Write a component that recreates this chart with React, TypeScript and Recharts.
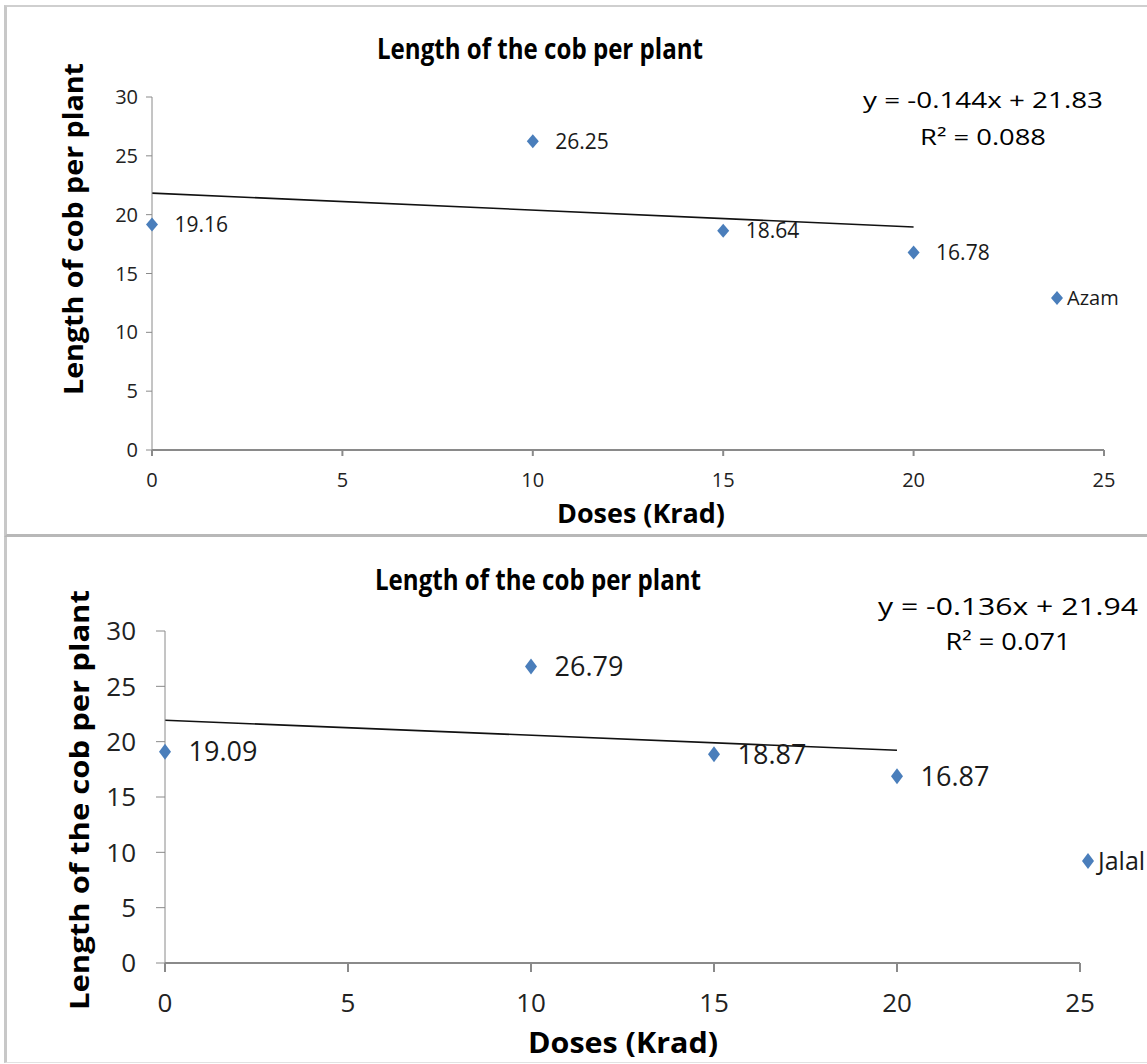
import {
  Legend,
  LabelList,
  ReferenceLine,
  Scatter,
  ScatterChart,
  XAxis,
  YAxis,
} from "recharts";

const doses = [0, 10, 15, 20];
const azamLength = [19.16, 26.25, 18.64, 16.78];
const jalalLength = [19.09, 26.79, 18.87, 16.87];
const trendDoses = [0, 20];
const azamTrend = [21.83, 18.95];
const jalalTrend = [21.94, 19.22];
const xTicks = [0, 5, 10, 15, 20, 25];
const yTicks = [0, 5, 10, 15, 20, 25, 30];

const FONT = "'Open Sans', 'DejaVu Sans', sans-serif";
const MARKER = "#4A7EBB";
const AXIS = "#8a8a8a";

type Pt = { x: number; y: number };
const toPoints = (xs: number[], ys: number[]): Pt[] => xs.map((x, i) => ({ x, y: ys[i] }));

function diamond(half: number, halfH: number) {
  return (props: any) => {
    const { cx, cy } = props;
    return (
      <polygon
        points={`${cx},${cy - halfH} ${cx + half},${cy} ${cx},${cy + halfH} ${cx - half},${cy}`}
        fill={MARKER}
      />
    );
  };
}

function legendContent(fontSize: number, half: number, halfH: number) {
  return (props: any) => {
    const items = (props.payload ?? []) as Array<{ value: string }>;
    return (
      <div style={{ fontFamily: FONT }}>
        {items.map((e) => (
          <div key={e.value} style={{ display: "flex", alignItems: "center", gap: 3 }}>
            <svg width={half * 2 + 2} height={halfH * 2 + 2}>
              <polygon
                points={`${half + 1},1 ${half * 2 + 1},${halfH + 1} ${half + 1},${halfH * 2 + 1} 1,${halfH + 1}`}
                fill={MARKER}
              />
            </svg>
            <span style={{ fontSize, color: "#1a1a1a", lineHeight: 1 }}>{e.value}</span>
          </div>
        ))}
      </div>
    );
  };
}

interface PanelProps {
  name: string;
  values: number[];
  trend: number[];
  top: number;
  height: number;
  margin: { top: number; right: number; bottom: number; left: number };
  yAxisWidth: number;
  tickFont: number;
  labelFont: number;
  tickMarginX: number;
  tickMarginY: number;
  tickSize: number;
  half: number;
  halfH: number;
  labelOffset: number;
  legendPos: { left: number; top: number };
  legendFont: number;
}

function Panel(p: PanelProps) {
  const data = toPoints(doses, p.values);
  const trend = toPoints(trendDoses, p.trend);
  return (
    <div style={{ position: "absolute", left: 0, top: p.top }}>
      <ScatterChart
        width={1147}
        height={p.height}
        margin={p.margin}
        style={{ fontFamily: FONT }}
      >
        <XAxis
          type="number"
          dataKey="x"
          domain={[0, 25]}
          ticks={xTicks}
          height={60}
          stroke={AXIS}
          strokeWidth={2}
          tickSize={p.tickSize}
          tickMargin={p.tickMarginX}
          tick={{ fontSize: p.tickFont, fill: "#222", fontFamily: FONT }}
        />
        <YAxis
          type="number"
          dataKey="y"
          domain={[0, 30]}
          ticks={yTicks}
          width={p.yAxisWidth}
          stroke={AXIS}
          tickSize={p.tickSize}
          tickMargin={p.tickMarginY}
          tick={{ fontSize: p.tickFont, fill: "#222", fontFamily: FONT }}
        />
        <ReferenceLine
          segment={trend}
          stroke="#111"
          strokeWidth={1.6}
          ifOverflow="visible"
        />
        <Scatter
          name={p.name}
          data={data}
          fill={MARKER}
          shape={diamond(p.half, p.halfH)}
          isAnimationActive={false}
        >
          <LabelList
            dataKey="y"
            position="right"
            offset={p.labelOffset}
            fill="#1a1a1a"
            fontSize={p.labelFont}
            fontFamily={FONT}
          />
        </Scatter>
        <Legend
          layout="horizontal"
          verticalAlign="middle"
          align="center"
          content={legendContent(p.legendFont, p.half, p.halfH)}
          wrapperStyle={{ position: "absolute", left: p.legendPos.left, top: p.legendPos.top, width: 110 }}
        />
      </ScatterChart>
    </div>
  );
}

function Texts() {
  const bold = { fontFamily: FONT, fontWeight: 700, fill: "#000" } as const;
  const reg = { fontFamily: FONT, fill: "#000" } as const;
  return (
    <svg
      width={1147}
      height={1064}
      style={{ position: "absolute", left: 0, top: 0, pointerEvents: "none" }}
    >
      {/* top chart */}
      <text x={540} y={59} textAnchor="middle" fontSize={28} textLength={326} lengthAdjust="spacingAndGlyphs" {...bold}>
        Length of the cob per plant
      </text>
      <text x={983} y={108} textAnchor="middle" fontSize={21} textLength={240} lengthAdjust="spacingAndGlyphs" {...reg}>
        y = -0.144x + 21.83
      </text>
      <text x={983} y={145} textAnchor="middle" fontSize={21} textLength={126} lengthAdjust="spacingAndGlyphs" {...reg}>
        R² = 0.088
      </text>
      <text x={641} y={523} textAnchor="middle" fontSize={26} textLength={168} lengthAdjust="spacingAndGlyphs" {...bold}>
        Doses (Krad)
      </text>
      <text
        x={73}
        y={229}
        transform="rotate(-90 73 229)"
        textAnchor="middle"
        dominantBaseline="central"
        fontSize={26}
        textLength={332}
        lengthAdjust="spacingAndGlyphs"
        {...bold}
      >
        Length of cob per plant
      </text>

      {/* bottom chart */}
      <text x={538} y={590} textAnchor="middle" fontSize={28} textLength={326} lengthAdjust="spacingAndGlyphs" {...bold}>
        Length of the cob per plant
      </text>
      <text x={1008} y={615} textAnchor="middle" fontSize={24} textLength={260} lengthAdjust="spacingAndGlyphs" {...reg}>
        y = -0.136x + 21.94
      </text>
      <text x={1008} y={650} textAnchor="middle" fontSize={24} textLength={125} lengthAdjust="spacingAndGlyphs" {...reg}>
        R² = 0.071
      </text>
      <text x={623} y={1053} textAnchor="middle" fontSize={28} textLength={190} lengthAdjust="spacingAndGlyphs" {...bold}>
        Doses (Krad)
      </text>
      <text
        x={78}
        y={800}
        transform="rotate(-90 78 800)"
        textAnchor="middle"
        dominantBaseline="central"
        fontSize={27}
        textLength={420}
        lengthAdjust="spacingAndGlyphs"
        {...bold}
      >
        Length of the cob per plant
      </text>
    </svg>
  );
}

export default function App() {
  return (
    <div
      style={{
        position: "absolute",
        left: 0,
        top: 0,
        width: 1147,
        height: 1064,
        background: "#fff",
        overflow: "hidden",
      }}
    >
      <div
        style={{
          position: "absolute",
          left: 4,
          top: 5,
          width: 1170,
          height: 527,
          borderTop: "2px solid #cfcfcf",
          borderLeft: "3px solid #c8c8c8",
          borderBottom: "3px solid #b8b8b8",
        }}
      />
      <div
        style={{
          position: "absolute",
          left: 4,
          top: 537,
          width: 1170,
          height: 525,
          borderLeft: "3px solid #c8c8c8",
          borderBottom: "1px solid #e2e2e2",
        }}
      />
      <Panel
        name="Azam"
        values={azamLength}
        trend={azamTrend}
        top={0}
        height={535}
        margin={{ top: 97, right: 43, bottom: 25, left: 92 }}
        yAxisWidth={60}
        tickFont={20}
        labelFont={21}
        tickSize={6}
        tickMarginX={17}
        tickMarginY={8}
        half={6}
        halfH={7}
        labelOffset={18}
        legendPos={{ left: 1050, top: 288 }}
        legendFont={20}
      />
      <Panel
        name="Jalal"
        values={jalalLength}
        trend={jalalTrend}
        top={535}
        height={529}
        margin={{ top: 96, right: 67, bottom: 41, left: 95 }}
        yAxisWidth={70}
        tickFont={26}
        labelFont={27}
        tickSize={9}
        tickMarginX={22}
        tickMarginY={20}
        half={6}
        halfH={8}
        labelOffset={19}
        legendPos={{ left: 1081, top: 313 }}
        legendFont={25}
      />
      <Texts />
    </div>
  );
}
